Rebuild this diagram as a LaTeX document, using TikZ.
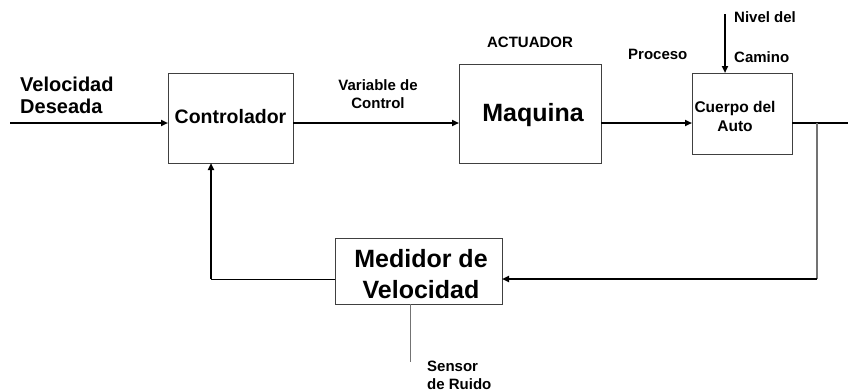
\documentclass[tikz,border=0pt]{standalone}
\usepackage{fontspec}
\setmainfont{Liberation Sans}
\usetikzlibrary{arrows.meta,calc}
\begin{document}
\begin{tikzpicture}[x=1pt,y=-1pt,
  blk/.style={draw=black!75,line width=0.9pt,inner sep=0pt,outer sep=0pt},
  lbl/.style={font=\bfseries\fontsize{15}{18}\selectfont,inner sep=0pt,align=center},
  big/.style={font=\bfseries\fontsize{25}{31}\selectfont,inner sep=0pt,align=center},
  thick line/.style={line width=1.8pt,black},
  thin line/.style={line width=1pt,black},
  gray line/.style={line width=1.2pt,black!55},
  tip/.style={-{Triangle[length=7pt,width=6pt]}}
]
\useasboundingbox (0,0) rectangle (848,391);

% blocks
\node[blk,minimum width=125pt,minimum height=90pt] (ctrl) at (230.5,118) {};
\node[font=\bfseries\fontsize{19.5}{22}\selectfont,inner sep=0pt] (ctrltext) at (230.5,117) {Controlador};
\node[blk,minimum width=142pt,minimum height=99pt] (maq) at (530,113.5) {};
\node[font=\bfseries\fontsize{25}{30}\selectfont,inner sep=0pt] (maqtext) at (533,115) {Maquina};
\node[blk,minimum width=100pt,minimum height=81pt] (body) at (742,113.5) {};
\node[lbl,font=\bfseries\fontsize{15.5}{19}\selectfont] (bodytext) at (735,116) {Cuerpo del\\Auto};
\node[blk,minimum width=167pt,minimum height=66pt] (med) at (418.5,271) {};
\node[big] (medtext) at (421,274.5) {Medidor de\\Velocidad};

% labels
\node[lbl,align=left,font=\bfseries\fontsize{20}{22}\selectfont,anchor=west] (vd) at (20,95) {Velocidad\\Deseada};
\node[lbl] (vc) at (378,94) {Variable de\\Control};
\node[lbl] (act) at (530,42) {ACTUADOR};
\node[lbl,anchor=west] (proc) at (628,54) {Proceso};
\node[lbl,anchor=west] (niv) at (734,17) {Nivel del};
\node[lbl,anchor=west] (cam) at (734,57) {Camino};
\node[lbl,align=left,anchor=west] (sen) at (427,375) {Sensor\\de Ruido};

% coordinates
\coordinate (in) at (10,123);
\coordinate (out) at (848,123);
\coordinate (br) at (817,123);
\coordinate (fb) at (817,279);
\coordinate (lc) at (211,279);
\coordinate (nivtop) at (725,14);
\coordinate (senend) at (410,362);

% forward path
\draw[thick line,tip] (in) -- (in -| ctrl.west);
\draw[thick line,tip] (ctrl.east |- in) -- (maq.west |- in);
\draw[thick line,tip] (maq.east |- in) -- (body.west |- in);
\draw[thick line] (body.east |- in) -- (out);
\draw[thick line,tip] (nivtop) -- (nivtop |- body.north);

% feedback
\draw[gray line] (br) -- (fb);
\draw[thick line,tip] (fb) -- (fb -| med.east);
\draw[thin line] (fb -| med.west) -- (lc);
\draw[thick line,tip] (lc) -- (lc |- ctrl.south);
\draw[gray line,line width=1pt] (senend |- med.south) -- (senend);
\end{tikzpicture}
\end{document}
